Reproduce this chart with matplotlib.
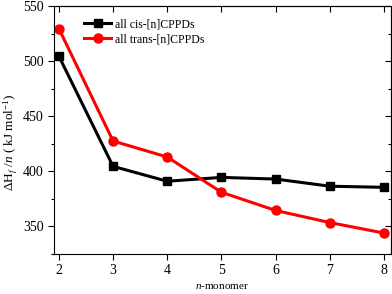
import matplotlib
matplotlib.use("Agg")
import matplotlib.pyplot as plt
from matplotlib.ticker import MultipleLocator

n_monomer = [2, 3, 4, 5, 6, 7, 8]
cis_values = [504.5, 404.5, 391.0, 394.5, 393.0, 386.5, 385.5]
trans_values = [529.5, 427.5, 413.0, 381.0, 364.5, 353.5, 344.0]

plt.rcParams["font.family"] = ["Liberation Serif", "DejaVu Serif"]
plt.rcParams["mathtext.fontset"] = "custom"
plt.rcParams["mathtext.rm"] = "Liberation Serif"
plt.rcParams["mathtext.it"] = "Liberation Serif:italic"

fig = plt.figure(figsize=(3.92, 2.94), dpi=100)
ax = fig.add_axes([54 / 392, 1 - 254 / 294, 336.5 / 392, 248 / 294])

ax.plot(n_monomer, cis_values, color="black", lw=2.2, marker="s", ms=5.5,
        label="all cis-[n]CPPDs")
ax.plot(n_monomer, trans_values, color="red", lw=2.2, marker="o", ms=6.5,
        label="all trans-[n]CPPDs")

ax.set_xlim(1.91, 8.12)
ax.set_ylim(325, 550)
ax.xaxis.set_major_locator(MultipleLocator(1))
ax.yaxis.set_major_locator(MultipleLocator(50))
ax.yaxis.set_minor_locator(MultipleLocator(25))
# left / bottom ticks point out
ax.tick_params(which="both", direction="out", labelsize=10, pad=3, width=0.8)
ax.tick_params(which="major", length=4.5)
ax.tick_params(which="minor", length=2.5)
for s in ax.spines.values():
    s.set_linewidth(0.8)

# top / right ticks point in
top = ax.secondary_xaxis("top")
top.xaxis.set_major_locator(MultipleLocator(1))
top.tick_params(direction="in", length=4.5, width=0.8, labeltop=False)
right = ax.secondary_yaxis("right")
right.yaxis.set_major_locator(MultipleLocator(50))
right.yaxis.set_minor_locator(MultipleLocator(25))
right.tick_params(which="both", direction="in", width=0.8, labelright=False)
right.tick_params(which="major", length=4.5)
right.tick_params(which="minor", length=2.5)

ax.set_xlabel("$n$-monomer", fontsize=8, labelpad=3)
ax.set_ylabel(r"$\Delta$H$_f$ /$n$ ( kJ mol$^{-1}$)", fontsize=9.5)
ax.yaxis.set_label_coords(-0.1, 0.45)

ax.legend(loc="upper left", bbox_to_anchor=(0.09, 0.95), frameon=False,
          fontsize=8.5, handlelength=2.3, handletextpad=0.3, labelspacing=0.25,
          borderaxespad=0, borderpad=0)

fig.savefig("out.png", dpi=100)
